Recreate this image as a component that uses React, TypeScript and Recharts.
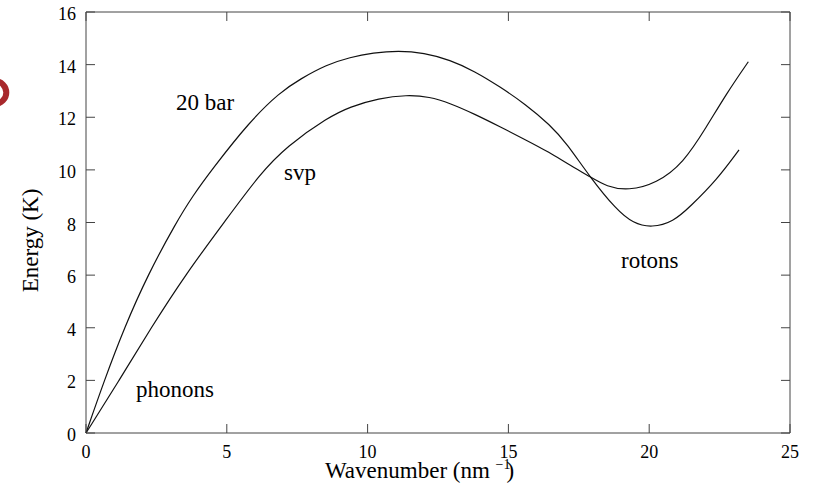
import { Label, Line, LineChart, ReferenceDot, ReferenceLine, XAxis, YAxis } from "recharts";

// wavenumber (nm^-1) and energy (K) along each dispersion curve
const barK = [0, 0.65, 1.36, 2.19, 3.2, 3.79, 4.46, 5.82, 6.89, 7.6, 8.55, 9.375, 10.2, 11.09, 12.0, 12.93, 13.8, 14.7, 15.6, 16.48, 17.07, 17.9, 18.84, 19.43, 20.09, 20.86, 21.45, 22.4, 23.19];
const barE = [0, 2, 4, 6, 8, 9.01, 10, 11.85, 12.95, 13.45, 14, 14.28, 14.45, 14.53, 14.45, 14.18, 13.75, 13.16, 12.5, 11.71, 11.01, 9.72, 8.48, 7.97, 7.8, 8.03, 8.6, 9.62, 10.76];

const svpK = [0, 1.18, 2.31, 3.55, 4.97, 6.18, 7.13, 8.6, 9.375, 10.4, 11.39, 12.2, 12.93, 13.8, 14.7, 15.6, 16.48, 17.07, 17.9, 18.49, 19.26, 20.26, 21.21, 22.04, 22.75, 23.52];
const svpE = [0, 2, 4, 6.05, 8.1, 9.85, 10.9, 12, 12.4, 12.72, 12.85, 12.78, 12.53, 12.12, 11.64, 11.15, 10.65, 10.25, 9.74, 9.36, 9.21, 9.49, 10.25, 11.64, 12.91, 14.11];

const xTicks = [0, 5, 10, 15, 20, 25];
const yTicks = [0, 2, 4, 6, 8, 10, 12, 14, 16];

// text labels placed in data coordinates (left edge, baseline)
const notes = [
  { text: "20 bar", k: 3.2, e: 12.28 },
  { text: "svp", k: 7.03, e: 9.62 },
  { text: "phonons", k: 1.78, e: 1.37 },
  { text: "rotons", k: 19.0, e: 6.27 },
];

const barData = barK.map((k, i) => ({ k, e: barE[i] }));
const svpData = svpK.map((k, i) => ({ k, e: svpE[i] }));

const FONT = "Liberation Serif";
const AXIS = "#444";
const X_MAX = 25;
const Y_MAX = 16;
// inward tick length, in axis units (about 9px each way)
const TICK_E = 0.342;
const TICK_K = 0.32;

function BottomTick({ x, y, payload }: any) {
  return (
    <text x={x} y={y} textAnchor="middle" fontSize={18} fontFamily={FONT} fill="#000">
      {payload.value}
    </text>
  );
}

function LeftTick({ x, y, payload }: any) {
  return (
    <text x={x} y={y + 8} textAnchor="end" fontSize={18} fontFamily={FONT} fill="#000">
      {payload.value}
    </text>
  );
}

function YTitle({ viewBox }: any) {
  const x = viewBox.x + 38;
  const y = viewBox.y + viewBox.height / 2 + 18;
  return (
    <text x={x} y={y} transform={`rotate(-90, ${x}, ${y})`} textAnchor="middle" fontSize={23} fontFamily={FONT} fill="#000">
      Energy (K)
    </text>
  );
}

function XTitle({ viewBox }: any) {
  const x = viewBox.x + 239;
  const y = viewBox.y + 45;
  return (
    <text x={x} y={y} fontSize={23} fontFamily={FONT} fill="#000">
      <tspan>Wavenumber (nm </tspan>
      <tspan fontSize={14} dy={-9}>−1</tspan>
      <tspan dx={-4} dy={9}>)</tspan>
    </text>
  );
}

export default function App() {
  return (
    <div style={{ position: "absolute", left: 0, top: 0, width: 816, height: 501, background: "#fff" }}>
      <svg width={20} height={120} style={{ position: "absolute", left: 0, top: 0 }}>
        <circle cx={-5} cy={92.5} r={11.3} fill="none" stroke="#a8282c" strokeWidth={6} />
      </svg>
      <LineChart width={816} height={501} margin={{ top: 11, right: 25, bottom: 0, left: 0 }} style={{ fontFamily: FONT }}>
        <XAxis
          dataKey="k"
          type="number"
          domain={[0, X_MAX]}
          ticks={xTicks}
          interval={0}
          height={68}
          tickSize={0}
          tickMargin={25}
          tickLine={false}
          stroke={AXIS}
          tick={<BottomTick />}
        >
          <Label content={<XTitle />} />
        </XAxis>
        <XAxis xAxisId="top" orientation="top" type="number" domain={[0, X_MAX]} ticks={xTicks} height={1} tickLine={false} tick={false} stroke={AXIS} />
        <YAxis
          type="number"
          domain={[0, Y_MAX]}
          ticks={yTicks}
          interval={0}
          width={86}
          tickSize={0}
          tickMargin={10}
          tickLine={false}
          stroke={AXIS}
          tick={<LeftTick />}
        >
          <Label content={<YTitle />} />
        </YAxis>
        <YAxis yAxisId="right" orientation="right" type="number" domain={[0, Y_MAX]} ticks={yTicks} width={1} tickLine={false} tick={false} stroke={AXIS} />

        {/* inward tick marks on all four sides of the frame */}
        {xTicks.map((t) => (
          <ReferenceLine key={`b${t}`} segment={[{ x: t, y: 0 }, { x: t, y: TICK_E }]} stroke={AXIS} ifOverflow="visible" />
        ))}
        {xTicks.map((t) => (
          <ReferenceLine key={`t${t}`} segment={[{ x: t, y: Y_MAX }, { x: t, y: Y_MAX - TICK_E }]} stroke={AXIS} ifOverflow="visible" />
        ))}
        {yTicks.map((t) => (
          <ReferenceLine key={`l${t}`} segment={[{ x: 0, y: t }, { x: TICK_K, y: t }]} stroke={AXIS} ifOverflow="visible" />
        ))}
        {yTicks.map((t) => (
          <ReferenceLine key={`r${t}`} segment={[{ x: X_MAX, y: t }, { x: X_MAX - TICK_K, y: t }]} stroke={AXIS} ifOverflow="visible" />
        ))}

        <Line data={barData} dataKey="e" type="basis" stroke="#111" strokeWidth={1.2} dot={false} activeDot={false} isAnimationActive={false} />
        <Line data={svpData} dataKey="e" type="basis" stroke="#111" strokeWidth={1.2} dot={false} activeDot={false} isAnimationActive={false} />
        {notes.map((n) => (
          <ReferenceDot
            key={n.text}
            x={n.k}
            y={n.e}
            r={0}
            ifOverflow="visible"
            shape={(p: any) => (
              <text x={p.cx} y={p.cy} fontSize={23} fontFamily={FONT} fill="#000">
                {n.text}
              </text>
            )}
          />
        ))}
      </LineChart>
    </div>
  );
}
